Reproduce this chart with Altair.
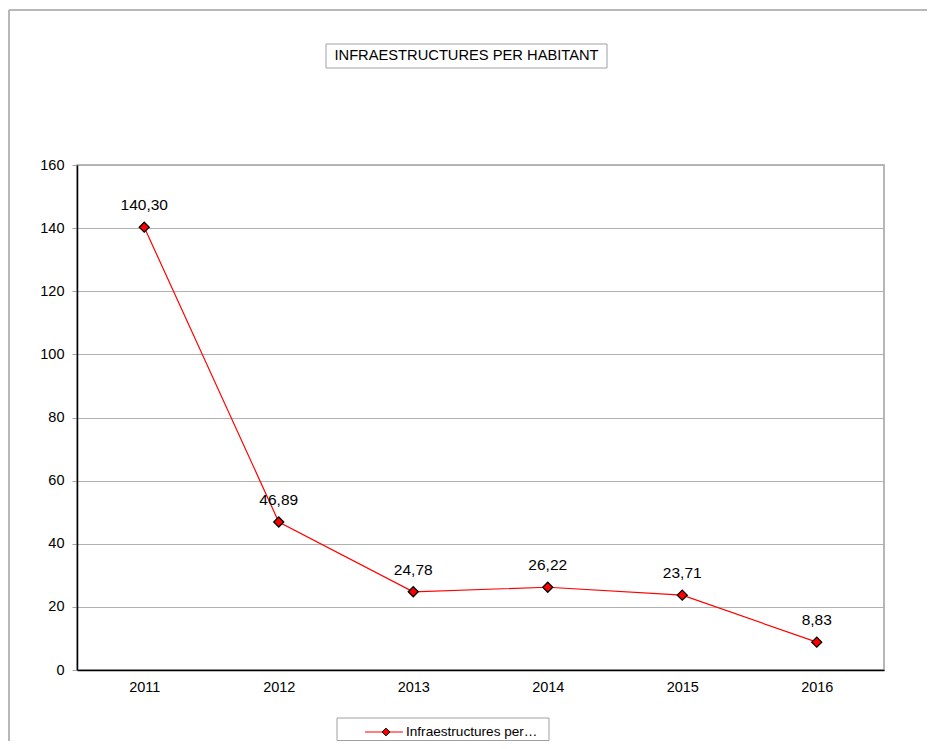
import altair as alt
import pandas as pd

years = ["2011", "2012", "2013", "2014", "2015", "2016"]
values = [140.30, 46.89, 24.78, 26.22, 23.71, 8.83]
labels = [f"{v:.2f}".replace(".", ",") for v in values]
y_ticks = [0, 20, 40, 60, 80, 100, 120, 140, 160]
title_text = "INFRAESTRUCTURES PER HABITANT"
legend_text = "Infraestructures per…"

df = pd.DataFrame({"year": years, "value": values, "label": labels})
one = pd.DataFrame({"k": [0]})

FONT = "Liberation Sans"

x_enc = alt.X("year:N", title=None, sort=years,
              scale=alt.Scale(paddingInner=0, paddingOuter=0),
              axis=alt.Axis(labelAngle=0, ticks=False, labelPadding=10,
                            labelFontSize=14.5, labelColor="black", labelFont=FONT,
                            domainColor="black", domainWidth=1.5, grid=False))
y_enc = alt.Y("value:Q", title=None,
              scale=alt.Scale(domain=[0, 160], nice=False),
              axis=alt.Axis(values=y_ticks, tickSize=5, tickColor="#a0a0a0",
                            labelPadding=8, labelFontSize=14.5, labelColor="black",
                            labelFont=FONT, domainColor="black", domainWidth=1.5,
                            grid=True, gridColor="#b0b0b0", gridWidth=1))

line = alt.Chart(df).mark_line(color="#ff0000", strokeWidth=1.2).encode(x=x_enc, y=y_enc)
pts = alt.Chart(df).mark_point(shape="diamond", filled=True, fill="#ff0000",
                               stroke="black", strokeWidth=1.3, size=100, opacity=1).encode(
    x=alt.X("year:N", sort=years), y="value:Q")
txt = alt.Chart(df).mark_text(fontSize=15.5, font=FONT, color="black", dy=-22).encode(
    x=alt.X("year:N", sort=years), y="value:Q", text="label:N")

frame_color = "#a0a0a0"
frame_left = alt.Chart(one).mark_rule(color=frame_color, strokeWidth=1.5).encode(
    x=alt.value(-68), y=alt.value(-155), y2=alt.value(590))
frame_top = alt.Chart(one).mark_rule(color=frame_color, strokeWidth=1.5).encode(
    x=alt.value(-68), x2=alt.value(870), y=alt.value(-155))

title_box = alt.Chart(one).mark_rect(fill="white", stroke="#a0a0a0", strokeWidth=1).encode(
    x=alt.value(249), x2=alt.value(530), y=alt.value(-121), y2=alt.value(-97))
title_txt = alt.Chart(one).mark_text(fontSize=14.7, font=FONT, color="black").encode(
    x=alt.value(389.5), y=alt.value(-109), text=alt.value(title_text))

leg_box = alt.Chart(one).mark_rect(fill="white", stroke="#a0a0a0", strokeWidth=1).encode(
    x=alt.value(260), x2=alt.value(472), y=alt.value(553), y2=alt.value(575.5))
leg_line = alt.Chart(one).mark_rule(color="#ff0000", strokeWidth=1.2).encode(
    x=alt.value(288), x2=alt.value(326), y=alt.value(567))
leg_pt = alt.Chart(one).mark_point(shape="diamond", filled=True, fill="#ff0000",
                                   stroke="black", strokeWidth=1, size=60, opacity=1).encode(
    x=alt.value(309), y=alt.value(567))
leg_txt = alt.Chart(one).mark_text(fontSize=13.6, font=FONT, color="black", align="left").encode(
    x=alt.value(329), y=alt.value(567), text=alt.value(legend_text))

chart = alt.layer(frame_left, frame_top, line, pts, txt, title_box, title_txt,
                  leg_box, leg_line, leg_pt, leg_txt).properties(
    width=807, height=505,
    autosize=alt.AutoSizeParams(type="none"),
    padding={"left": 69, "top": 157, "right": 43, "bottom": 71},
).configure_view(stroke="#a0a0a0", strokeWidth=1.5)

chart.save("out.html", embed_options={"renderer": "svg", "actions": False})
